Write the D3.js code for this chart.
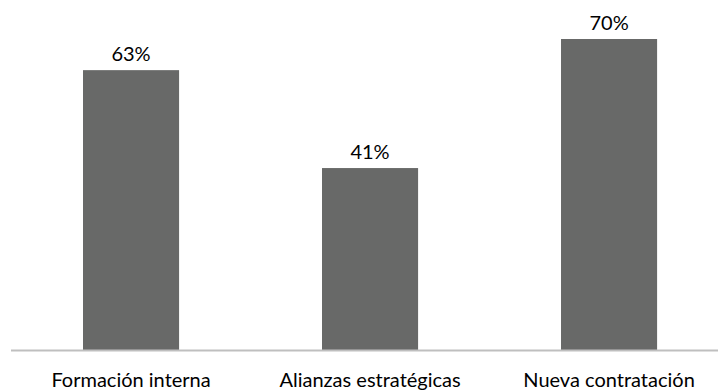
<!DOCTYPE html>
<html>
<head>
<meta charset="utf-8">
<script src="https://cdn.jsdelivr.net/npm/d3@7"></script>
<style>
  html, body { margin: 0; padding: 0; background: #fff; }
  svg text { font-family: Lato, "Open Sans", sans-serif; fill: #000; }
</style>
</head>
<body>
<svg id="chart" width="718" height="392"></svg>
<script>
// Share of respondents by strategy
const categories = ["Formación interna", "Alianzas estratégicas", "Nueva contratación"];
const values = [0.63, 0.41, 0.70];
const valueLabels = ["63%", "41%", "70%"];

const width = 718, height = 392;
const axisStart = 11;
const baseline = 350.5;

const svg = d3.select("#chart");

const x = d3.scaleBand()
  .domain(categories)
  .range([11.3, 728.8])
  .paddingInner(0.598)
  .paddingOuter(0.3);

const y = d3.scaleLinear()
  .domain([0, 0.8])
  .range([baseline, baseline - 356]);

// Bars
svg.append("g")
  .selectAll("rect")
  .data(values)
  .join("rect")
  .attr("x", (d, i) => x(categories[i]))
  .attr("y", d => y(d))
  .attr("width", x.bandwidth())
  .attr("height", d => y(0) - y(d))
  .attr("fill", "#686968");

// Category axis
const axis = svg.append("g")
  .attr("transform", `translate(0,${baseline})`)
  .call(d3.axisBottom(x).tickSize(0).tickPadding(22));
axis.select(".domain").attr("stroke", "#bfbfbf").attr("stroke-width", 2)
  .attr("d", `M${axisStart},0H${width}`);
axis.selectAll("text")
  .style("font-family", "Lato, 'Open Sans', sans-serif")
  .style("font-size", "20px")
  .attr("fill", "#000");

// Value labels
svg.append("g")
  .selectAll("text")
  .data(values)
  .join("text")
  .attr("x", (d, i) => x(categories[i]) + x.bandwidth() / 2)
  .attr("y", d => y(d) - 9.5)
  .attr("text-anchor", "middle")
  .style("font-size", "20px")
  .text((d, i) => valueLabels[i]);
</script>
</body>
</html>
